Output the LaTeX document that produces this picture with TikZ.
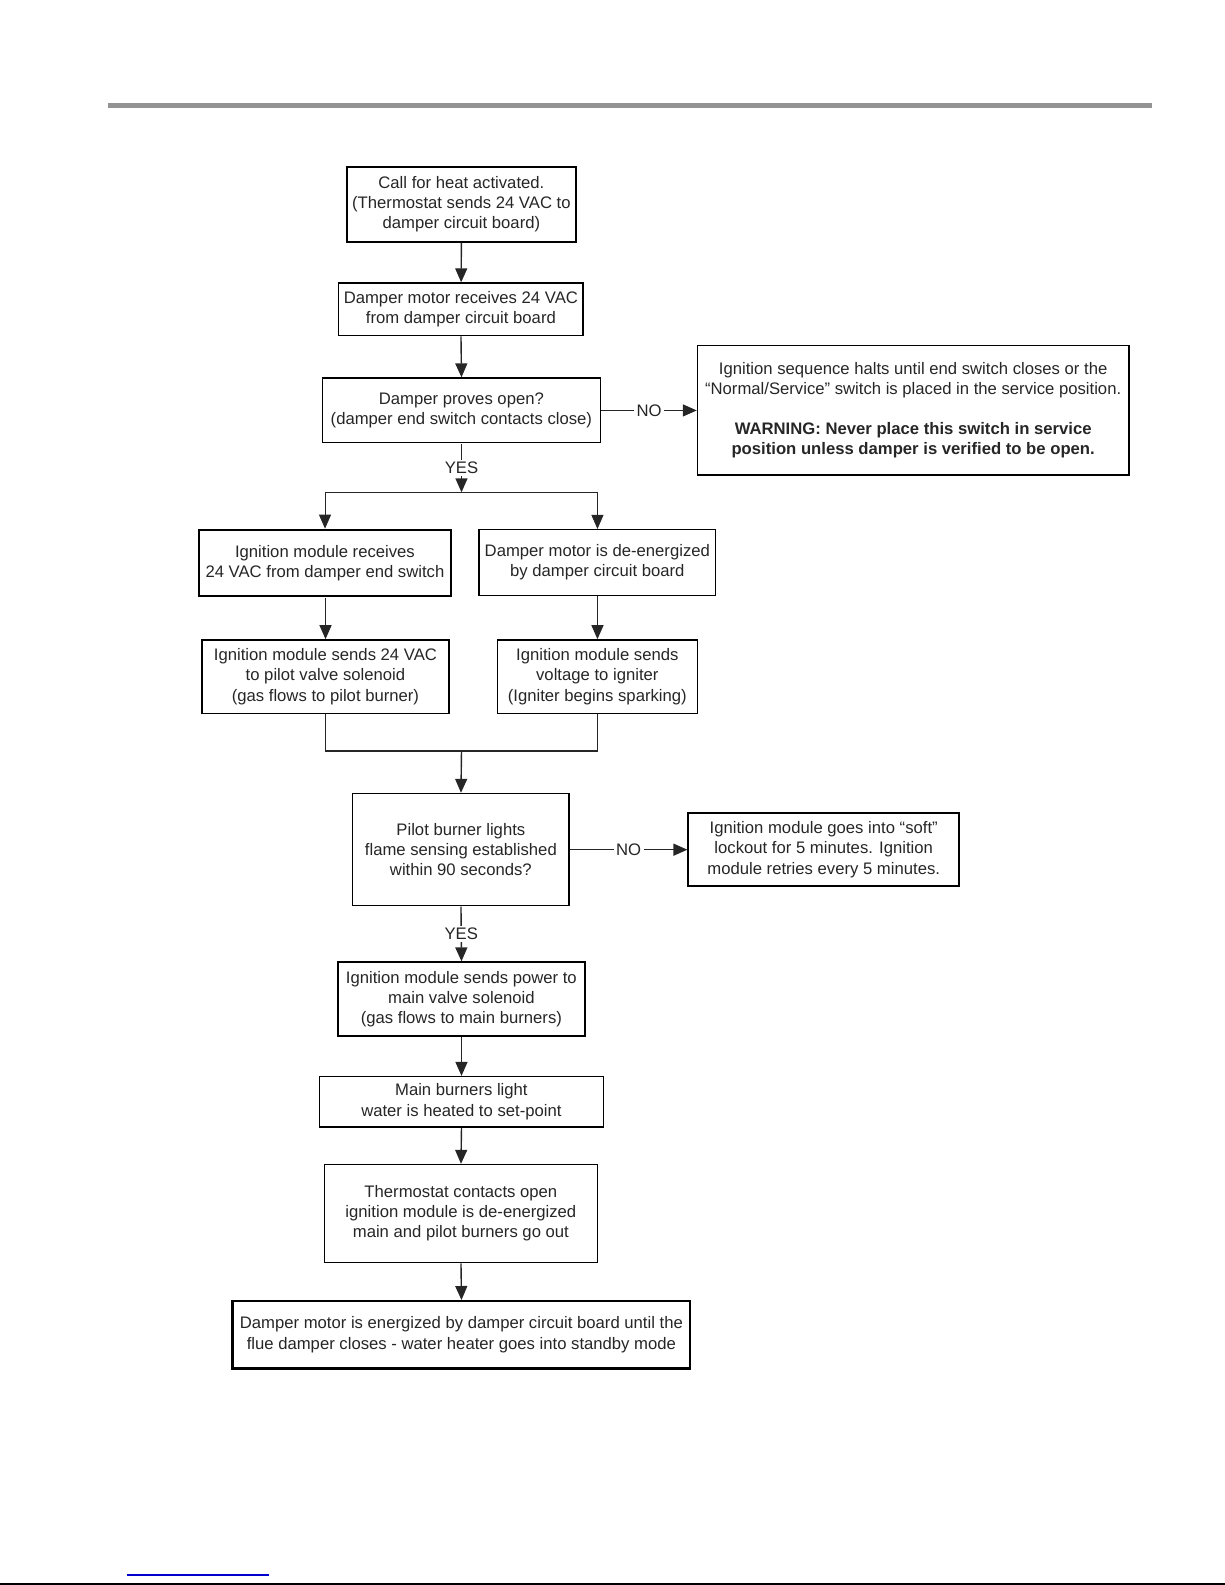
\documentclass[tikz,border=0pt]{standalone}
\usepackage{fontspec}
\setmainfont{Liberation Sans}
\usetikzlibrary{arrows.meta}
\definecolor{rulegray}{HTML}{939393}
\definecolor{linkblue}{HTML}{0000CC}
\tikzset{
  box/.style={draw=black, line width=0.75pt, rectangle, inner sep=0pt, align=center,
    font=\fontsize{8.25pt}{10pt}\selectfont, text=black!85},
  heavy/.style={line width=1.05pt},
  conn/.style={draw=black!85, line width=0.7pt},
  arr/.style={conn, -{Triangle[width=6pt,length=7pt]}},
  lbl/.style={fill=white, inner sep=1.2pt, font=\fontsize{8.25pt}{10pt}\selectfont, text=black!85},
}
\begin{document}
\begin{tikzpicture}[x=0.5pt, y=-0.5pt]
\useasboundingbox (0,0) rectangle (1225,1585);
% page rules
\fill[rulegray] (108,103) rectangle (1152,107.5);
\fill[black] (0,1582.5) rectangle (1225,1585);
\draw[linkblue, line width=0.6pt] (127,1575) -- (269,1575);

\begin{scope}[scale=1.0107, transform shape]
% boxes
\node[box, heavy, minimum width=113.5pt, minimum height=37pt] (b1) at (456.5,202) {Call for heat activated.\\(Thermostat sends 24 VAC to\\damper circuit board)};
\node[box, minimum width=121pt, minimum height=26pt] (b2) at (456,306) {Damper motor receives 24 VAC\\from damper circuit board};
\node[box, minimum width=137.5pt, minimum height=32pt] (b3) at (456.5,406) {Damper proves open?\\(damper end switch contacts close)};
\node[box, minimum width=213.5pt, minimum height=64pt] (b4) at (903.5,406) {Ignition sequence halts until end switch closes or the\\``Normal/Service'' switch is placed in the service position.\\[9.5pt]\textbf{WARNING: Never place this switch in service}\\\textbf{position unless damper is verified to be open.}};
\node[box, heavy, minimum width=124.5pt, minimum height=33pt] (b5) at (321.5,557) {Ignition module receives\\24 VAC from damper end switch};
\node[box, minimum width=117pt, minimum height=32.5pt] (b6) at (591,556.5) {Damper motor is de-energized\\by damper circuit board};
\node[box, minimum width=122pt, minimum height=36.5pt] (b7) at (322,669.5) {Ignition module sends 24 VAC\\to pilot valve solenoid\\(gas flows to pilot burner)};
\node[box, minimum width=99pt, minimum height=36.5pt] (b8) at (591,669.5) {Ignition module sends\\voltage to igniter\\(Igniter begins sparking)};
\node[box, minimum width=107pt, minimum height=55.5pt] (b9) at (456,840.5) {Pilot burner lights\\flame sensing established\\within 90 seconds?};
\node[box, heavy, minimum width=134pt, minimum height=36.5pt] (b10) at (815,840.5) {Ignition module goes into ``soft''\\lockout for 5 minutes. Ignition\\module retries every 5 minutes.};
\node[box, heavy, minimum width=122.5pt, minimum height=36.5pt] (b11) at (456.5,988.5) {Ignition module sends power to\\main valve solenoid\\(gas flows to main burners)};
\node[box, minimum width=140.5pt, minimum height=25pt] (b12) at (456.5,1090) {Main burners light\\water is heated to set-point};
\node[box, minimum width=135pt, minimum height=48.5pt] (b13) at (456,1200.5) {Thermostat contacts open\\ignition module is de-energized\\main and pilot burners go out};
\node[box, heavy, minimum width=226.5pt, minimum height=33.5pt] (b14) at (456.5,1320.5) {Damper motor is energized by damper circuit board until the\\flue damper closes - water heater goes into standby mode};

% junction points
\coordinate (split) at (456.5,487);
\coordinate (merge) at (456.5,743);

% connectors
\draw[arr] (b1) -- (b2);
\draw[arr] (b2.south) -- (b3.north);
\draw[arr] (b3.east) -- node[lbl] {NO} (b4.west |- b3.east);
\draw[arr] (b3.south) -- node[lbl] {YES} (split);
\draw[arr, line width=0.45pt] (split) -| (b5.north);
\draw[arr, line width=0.45pt] (split) -| (b6.north);
\draw[arr] (b5.south -| b7.north) -- (b7.north);
\draw[arr] (b6.south) -- (b8.north);
\draw[conn] (b7.south) |- (merge);
\draw[conn] (b8.south) |- (merge);
\draw[arr] (merge) -- (b9.north);
\draw[arr] (b9.east) -- node[lbl] {NO} (b10.west |- b9.east);
\draw[arr] (b9.south) -- node[lbl] {YES} (b11.north);
\draw[arr] (b11.south) -- (b12.north);
\draw[arr] (b12.south) -- (b13.north);
\draw[arr] (b13.south) -- (b14.north);
\end{scope}
\end{tikzpicture}
\end{document}
